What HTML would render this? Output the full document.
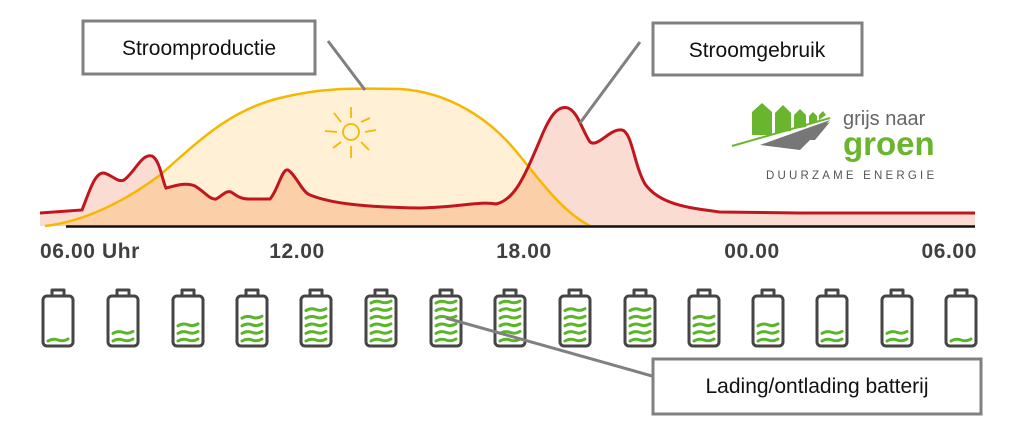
<!DOCTYPE html>
<html><head><meta charset="utf-8"><style>
html,body{margin:0;padding:0;background:#fff;}
svg{display:block;}
.lbl{font-family:"Liberation Sans",sans-serif;font-size:21px;fill:#111;}
.ax{font-family:"Liberation Sans",sans-serif;font-size:21px;font-weight:bold;fill:#404040;letter-spacing:0.6px;}
</style></head><body>
<svg width="1028" height="434" viewBox="0 0 1028 434" xmlns="http://www.w3.org/2000/svg">
<defs>
<clipPath id="yc"><path d="M45,226 C80,222 120,205 160,175 C200,140 230,110 280,98 C320,88 350,88 400,89 C450,92 490,120 515,150 C540,180 560,210 590,226 Z"/></clipPath>
<g id="bat" stroke="#454545" stroke-width="3" fill="none" stroke-linejoin="round">
<path d="M-6,296 L-6,290 L6,290 L6,296"/>
<rect x="-15" y="296" width="30" height="50" rx="4"/>
</g>
<path id="wv" d="M-10,341 q5,-3 10,-1 t10,-1" stroke="#5ab52a" stroke-width="3" fill="none" stroke-linecap="round"/>
</defs>
<path d="M45,226 C80,222 120,205 160,175 C200,140 230,110 280,98 C320,88 350,88 400,89 C450,92 490,120 515,150 C540,180 560,210 590,226 Z" fill="#fff0d6"/>
<path d="M40,226 L40,213 L82,210 C90,190 95,172 104,173 C112,175 118,183 124,180 C135,172 142,153 152,156 C160,160 162,180 166,188 C175,186 185,182 195,186 C205,192 210,200 216,199 C222,196 226,190 231,192 C236,195 240,199 248,199 L270,199 C278,190 282,168 288,170 C296,175 302,192 310,195 C330,203 360,207 420,208 C460,207 480,201 496,204 C515,200 525,175 540,140 C550,115 558,105 568,108 C578,112 582,130 590,142 C598,148 610,128 622,130 C632,132 634,165 645,184 C660,205 690,208 720,212 L800,213 L975,213 L975,226 Z" fill="#fadcd3"/>
<path clip-path="url(#yc)" d="M40,226 L40,213 L82,210 C90,190 95,172 104,173 C112,175 118,183 124,180 C135,172 142,153 152,156 C160,160 162,180 166,188 C175,186 185,182 195,186 C205,192 210,200 216,199 C222,196 226,190 231,192 C236,195 240,199 248,199 L270,199 C278,190 282,168 288,170 C296,175 302,192 310,195 C330,203 360,207 420,208 C460,207 480,201 496,204 C515,200 525,175 540,140 C550,115 558,105 568,108 C578,112 582,130 590,142 C598,148 610,128 622,130 C632,132 634,165 645,184 C660,205 690,208 720,212 L800,213 L975,213 L975,226 Z" fill="#fbcfa8"/>
<path d="M45,226 C80,222 120,205 160,175 C200,140 230,110 280,98 C320,88 350,88 400,89 C450,92 490,120 515,150 C540,180 560,210 590,226" fill="none" stroke="#f5b800" stroke-width="2.5"/>
<path d="M40,213 L82,210 C90,190 95,172 104,173 C112,175 118,183 124,180 C135,172 142,153 152,156 C160,160 162,180 166,188 C175,186 185,182 195,186 C205,192 210,200 216,199 C222,196 226,190 231,192 C236,195 240,199 248,199 L270,199 C278,190 282,168 288,170 C296,175 302,192 310,195 C330,203 360,207 420,208 C460,207 480,201 496,204 C515,200 525,175 540,140 C550,115 558,105 568,108 C578,112 582,130 590,142 C598,148 610,128 622,130 C632,132 634,165 645,184 C660,205 690,208 720,212 L800,213 L975,213" fill="none" stroke="#c0161e" stroke-width="3"/>
<line x1="66" y1="226.5" x2="975" y2="226.5" stroke="#111" stroke-width="2.5"/>
<g stroke="#f5b800" stroke-width="1.8" fill="none">
<circle cx="351" cy="132" r="8"/>
<line x1="351" y1="118" x2="351" y2="107"/><line x1="351" y1="146" x2="351" y2="158"/>
<line x1="337" y1="132" x2="325" y2="131"/><line x1="365" y1="132" x2="376" y2="130"/>
<line x1="341" y1="122" x2="334" y2="113"/><line x1="361" y1="122" x2="370" y2="118"/>
<line x1="341" y1="142" x2="333" y2="148"/><line x1="361" y1="142" x2="369" y2="150"/>
</g>
<text class="ax" x="40" y="258">06.00 Uhr</text>
<text class="ax" x="297" y="258" text-anchor="middle">12.00</text>
<text class="ax" x="524" y="258" text-anchor="middle">18.00</text>
<text class="ax" x="752" y="258" text-anchor="middle">00.00</text>
<text class="ax" x="977" y="258" text-anchor="end">06.00</text>
<!-- batteries -->
<use href="#bat" x="58"/><use href="#bat" x="123"/><use href="#bat" x="188"/><use href="#bat" x="252"/><use href="#bat" x="316"/><use href="#bat" x="381"/><use href="#bat" x="446"/><use href="#bat" x="510"/><use href="#bat" x="575"/><use href="#bat" x="640"/><use href="#bat" x="704"/><use href="#bat" x="768"/><use href="#bat" x="832"/><use href="#bat" x="897"/><use href="#bat" x="961"/>
<!-- waves: levels 1,2,3,4,5,6,6,6,5,5,4,3,2,2,1 -->
<use href="#wv" x="58"/>
<use href="#wv" x="123"/><use href="#wv" x="123" y="-7.6"/>
<use href="#wv" x="188"/><use href="#wv" x="188" y="-7.6"/><use href="#wv" x="188" y="-15.2"/>
<use href="#wv" x="252"/><use href="#wv" x="252" y="-7.6"/><use href="#wv" x="252" y="-15.2"/><use href="#wv" x="252" y="-22.8"/>
<use href="#wv" x="316"/><use href="#wv" x="316" y="-7.6"/><use href="#wv" x="316" y="-15.2"/><use href="#wv" x="316" y="-22.8"/><use href="#wv" x="316" y="-30.4"/>
<use href="#wv" x="381"/><use href="#wv" x="381" y="-7.6"/><use href="#wv" x="381" y="-15.2"/><use href="#wv" x="381" y="-22.8"/><use href="#wv" x="381" y="-30.4"/><use href="#wv" x="381" y="-38"/>
<use href="#wv" x="446"/><use href="#wv" x="446" y="-7.6"/><use href="#wv" x="446" y="-15.2"/><use href="#wv" x="446" y="-22.8"/><use href="#wv" x="446" y="-30.4"/><use href="#wv" x="446" y="-38"/>
<use href="#wv" x="510"/><use href="#wv" x="510" y="-7.6"/><use href="#wv" x="510" y="-15.2"/><use href="#wv" x="510" y="-22.8"/><use href="#wv" x="510" y="-30.4"/><use href="#wv" x="510" y="-38"/>
<use href="#wv" x="575"/><use href="#wv" x="575" y="-7.6"/><use href="#wv" x="575" y="-15.2"/><use href="#wv" x="575" y="-22.8"/><use href="#wv" x="575" y="-30.4"/>
<use href="#wv" x="640"/><use href="#wv" x="640" y="-7.6"/><use href="#wv" x="640" y="-15.2"/><use href="#wv" x="640" y="-22.8"/><use href="#wv" x="640" y="-30.4"/>
<use href="#wv" x="704"/><use href="#wv" x="704" y="-7.6"/><use href="#wv" x="704" y="-15.2"/><use href="#wv" x="704" y="-22.8"/>
<use href="#wv" x="768"/><use href="#wv" x="768" y="-7.6"/><use href="#wv" x="768" y="-15.2"/>
<use href="#wv" x="832"/><use href="#wv" x="832" y="-7.6"/>
<use href="#wv" x="897"/><use href="#wv" x="897" y="-7.6"/>
<use href="#wv" x="961"/>
<!-- callouts -->
<g stroke="#808080" stroke-width="3">
<line x1="328" y1="41" x2="365" y2="90"/>
<line x1="640" y1="42" x2="580" y2="123"/>
<line x1="446" y1="318" x2="652" y2="376"/>
</g>
<g fill="#fff" stroke="#808080" stroke-width="3">
<rect x="83" y="21" width="232" height="53"/>
<rect x="653" y="23" width="209" height="52"/>
<rect x="653" y="359" width="328" height="55"/>
</g>
<text class="lbl" x="199" y="55" text-anchor="middle">Stroomproductie</text>
<text class="lbl" x="757" y="57" text-anchor="middle">Stroomgebruik</text>
<text class="lbl" x="817" y="393" text-anchor="middle">Lading/ontlading batterij</text>
<!-- logo -->
<g>
<path d="M752,135 L752,112 L762,103 L772,112 L772,135 Z M775,133 L775,113 L783,105 L791,113 L791,131 Z M794,129 L794,115 L800,109 L806,115 L806,127 Z M809,124 L809,116 L813,112 L817,116 L817,122 Z M819,120 L819,115 L823,111 L826,115 Z" fill="#6ab52e"/>
<path d="M732,146 L830,118" stroke="#6ab52e" stroke-width="2"/>
<path d="M760,145 L830,120 L800,150 Z M790,140 L830,122 L815,140 Z" fill="#777"/>
<text x="843" y="125" font-family="Liberation Sans,sans-serif" font-size="20" fill="#666">grijs naar</text>
<text x="843" y="155" font-family="Liberation Sans,sans-serif" font-size="33" font-weight="bold" fill="#6ab52e">groen</text>
<text x="766" y="179" font-family="Liberation Sans,sans-serif" font-size="11.5" fill="#555" letter-spacing="3.2">DUURZAME ENERGIE</text>
</g>
</svg>
</body></html>
